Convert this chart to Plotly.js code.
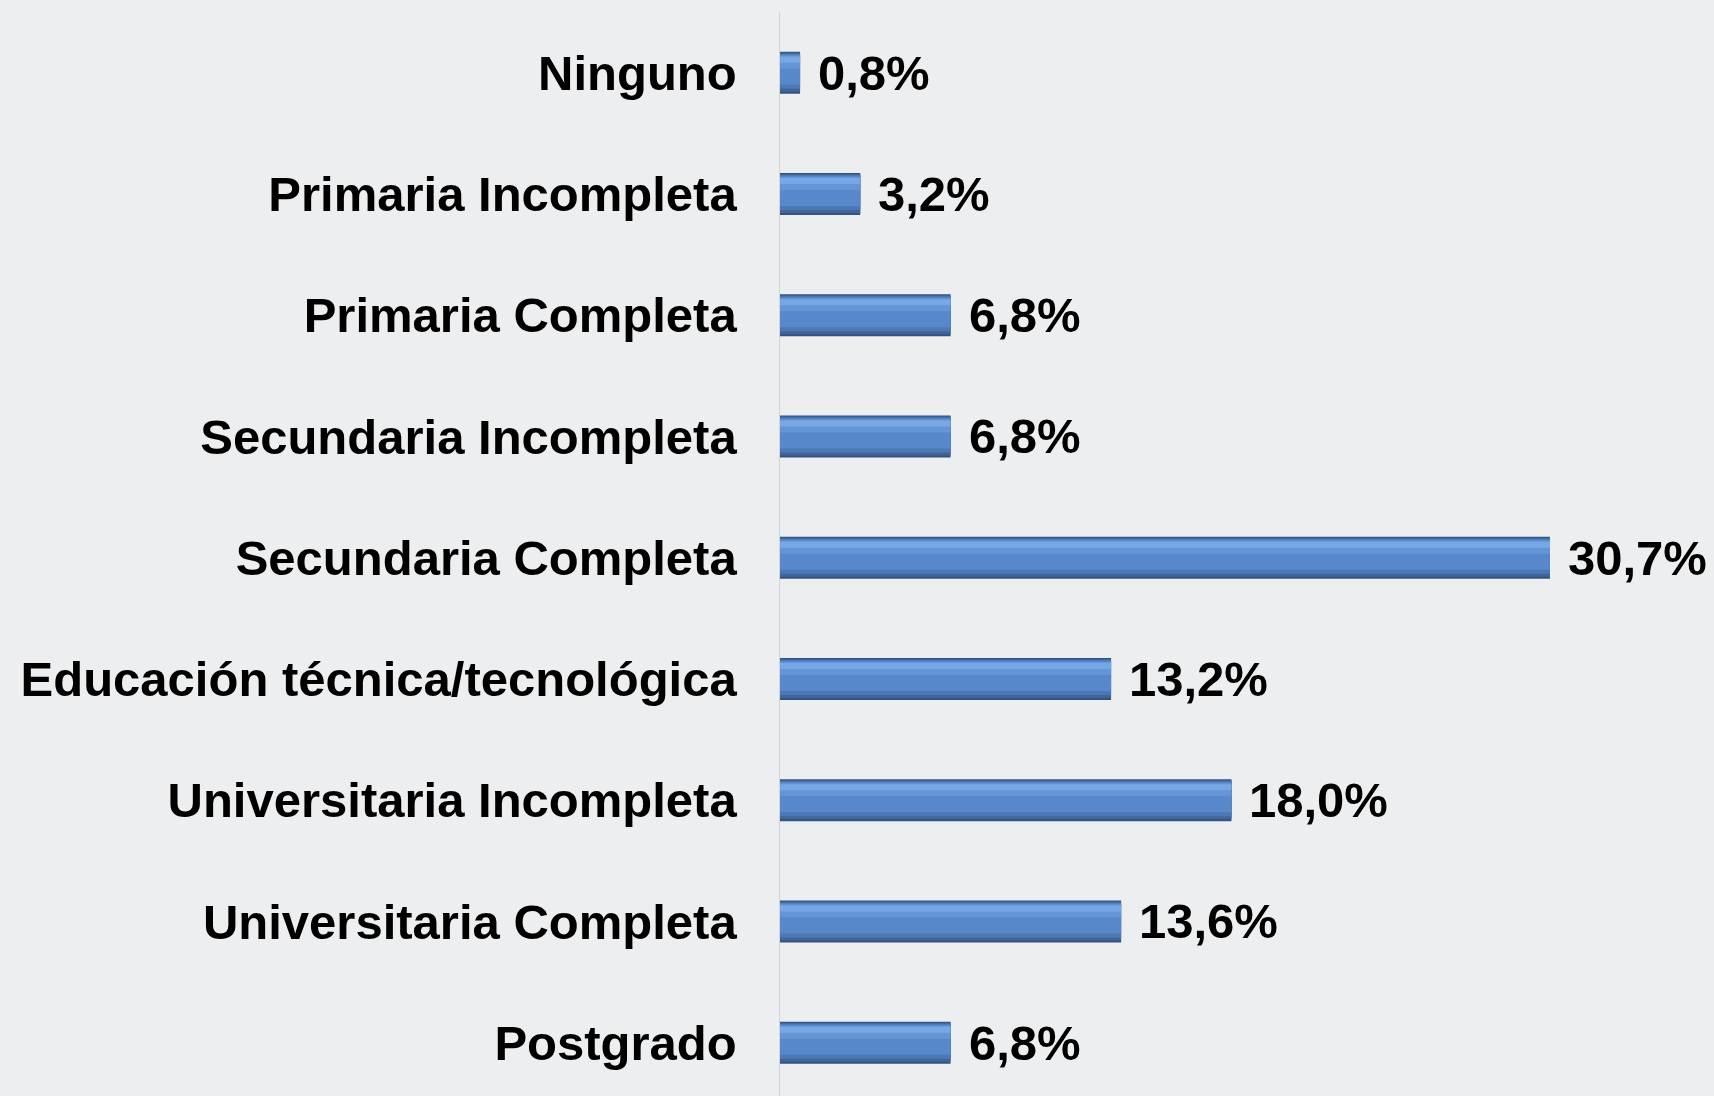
<!DOCTYPE html>
<html>
<head>
<meta charset="utf-8">
<script src="https://cdn.plot.ly/plotly-3.0.1.min.js"></script>
<style>html,body{margin:0;padding:0;background:#EDEEF0;}#chart{width:1714px;height:1096px;}</style>
</head>
<body>
<div id="chart"></div>
<script>
var categories = ["Ninguno","Primaria Incompleta","Primaria Completa","Secundaria Incompleta","Secundaria Completa","Educación técnica/tecnológica","Universitaria Incompleta","Universitaria Completa","Postgrado"];
var values = [0.8, 3.2, 6.8, 6.8, 30.7, 13.2, 18.0, 13.6, 6.8];
var valueLabels = values.map(function(v){ return v.toFixed(1).replace('.', ',') + '%'; });

var W = 0.346;
var U = 1 / 121.25; // one pixel in category units
function layer(color, topPx, heightPx){
  return {
    type: 'bar', orientation: 'h', x: values, y: categories,
    width: heightPx * U, offset: -W/2 + topPx * U,
    marker: {color: color, line: {width: 0}},
    hoverinfo: 'skip', showlegend: false
  };
}
var traces = [
  layer('#34527d', 0, 42),
  layer('#40659a', 1, 39),
  layer('#4c78b5', 2, 35),
  layer('#5788cb', 3, 30),
  layer('#6495d6', 4, 13),
  layer('#77a7e4', 5, 6)
];

var font = {family: '"Liberation Sans", Arial, Helvetica, sans-serif', size: 49, color: '#000000'};
var annotations = values.map(function(v, i){
  return {x: v, y: categories[i], text: '<b>' + valueLabels[i] + '</b>', xanchor: 'left', yanchor: 'middle',
    xshift: 16, showarrow: false, font: font};
});

var layout = {
  width: 1714, height: 1096, autosize: false,
  margin: {l: 780, r: 0, t: 12, b: 0, pad: 0},
  paper_bgcolor: '#EDEEF0', plot_bgcolor: '#EDEEF0',
  barmode: 'overlay',
  xaxis: {range: [0, 37.24], showgrid: false, zeroline: false, showticklabels: false, showline: false, ticks: ''},
  yaxis: {type: 'category', categoryorder: 'array', categoryarray: categories, range: [8.44, -0.5],
    showgrid: false, zeroline: false, showline: true, linecolor: '#d2d3d6', linewidth: 1.5,
    ticks: 'outside', ticklen: 32, tickcolor: 'rgba(0,0,0,0)',
    tickfont: font, tickprefix: '<b>', ticksuffix: '</b>'},
  annotations: annotations,
  font: font
};
Plotly.newPlot('chart', traces, layout, {displayModeBar: false, staticPlot: true});
</script>
</body>
</html>
